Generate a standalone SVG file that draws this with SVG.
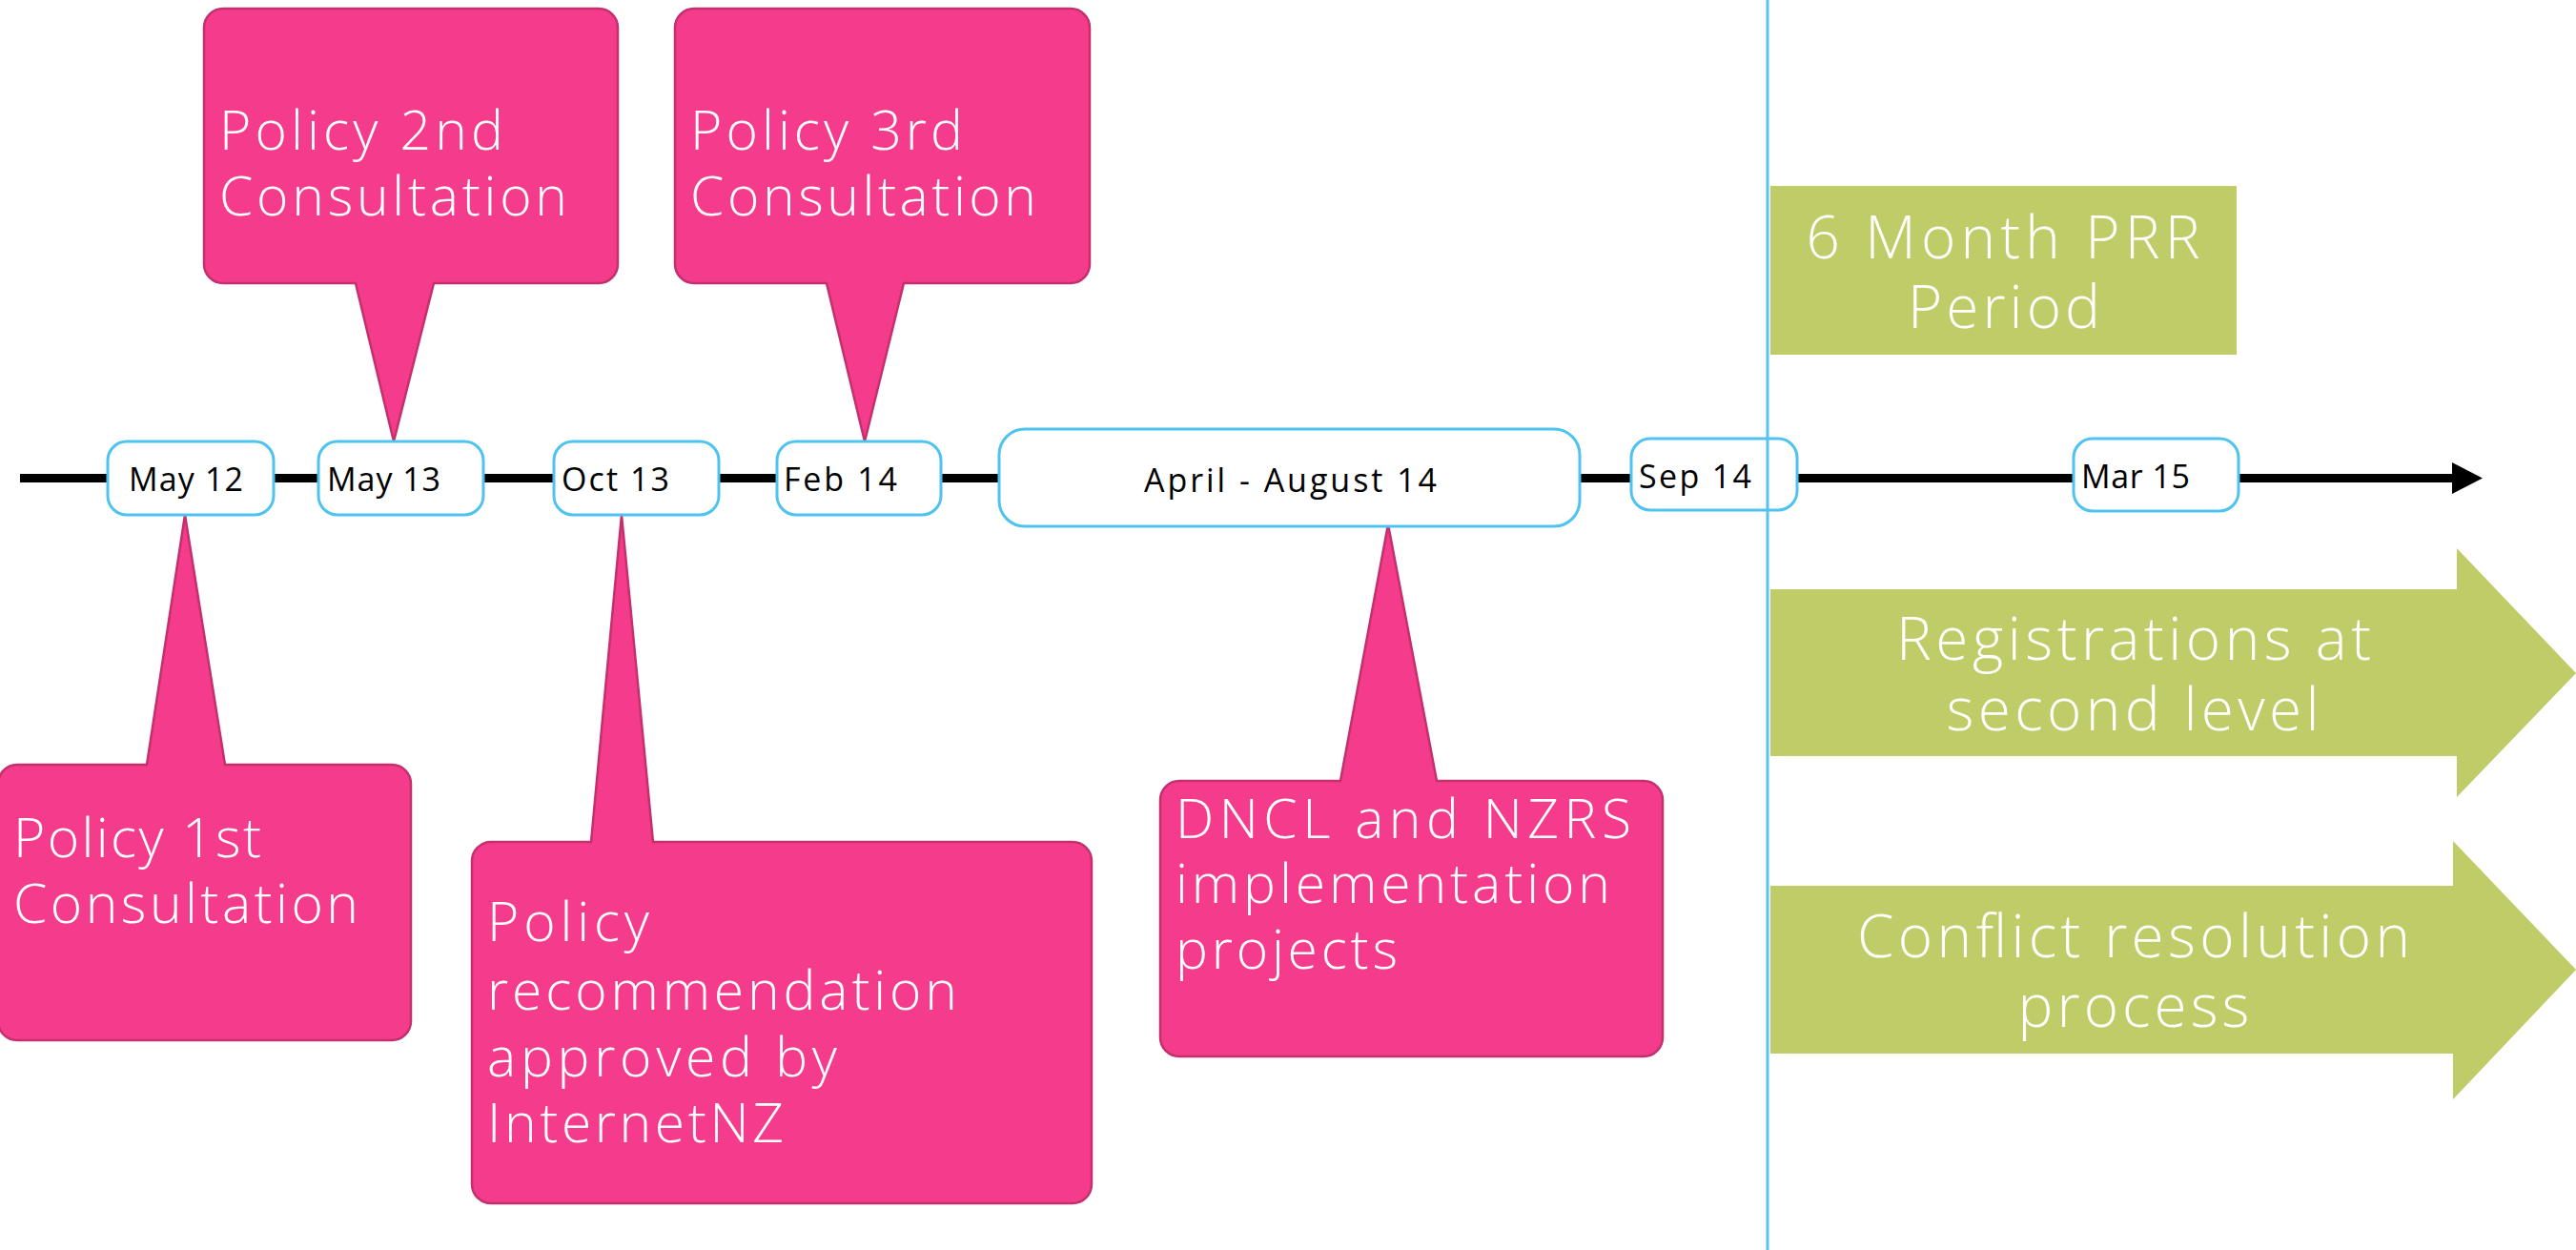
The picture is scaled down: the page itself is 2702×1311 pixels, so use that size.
<svg xmlns="http://www.w3.org/2000/svg" width="2702" height="1311" viewBox="0 0 2702 1311">
<style>
.callout{fill:#F43B8C;stroke:#C4306C;stroke-width:2.5}
.ctext{fill:#FFFFFF;font-family:"Open Sans","Liberation Sans",sans-serif;font-weight:300;font-size:57px}
.gshape{fill:#C0CC68}
.gtext{fill:#FFFFFF;font-family:"Open Sans","Liberation Sans",sans-serif;font-weight:300;font-size:62px;text-anchor:middle}
.date{fill:#FFFFFF;stroke:#4FC3EF;stroke-width:3}
.dtext{fill:#000000;font-family:"Open Sans","Liberation Sans",sans-serif;font-weight:400;font-size:34px}
</style>
<defs>
<marker id="arrow" viewBox="0 0 32 33" refX="0" refY="16.5" markerWidth="32" markerHeight="33" markerUnits="userSpaceOnUse" orient="auto">
<path d="M0 0 L32 16.5 L0 33 Z" fill="#000000"/>
</marker>
</defs>
<rect x="0" y="0" width="2702" height="1311" fill="#FFFFFF"/>
<g id="connectors">
<line x1="21" y1="501.5" x2="2572" y2="501.5" stroke="#000000" stroke-width="9" marker-end="url(#arrow)"/>
</g>
<g id="callout-policy-2nd">
<path class="callout" d="M234 9 H628 A20 20 0 0 1 648 29 V277 A20 20 0 0 1 628 297 H455 L413 463 L373 297 H234 A20 20 0 0 1 214 277 V29 A20 20 0 0 1 234 9 Z"/>
<text class="ctext"><tspan x="230" y="157" textLength="298">Policy 2nd</tspan><tspan x="230" y="226" textLength="365">Consultation</tspan></text>
</g>
<g id="callout-policy-3rd">
<path class="callout" d="M728 9 H1123 A20 20 0 0 1 1143 29 V277 A20 20 0 0 1 1123 297 H948 L907 463 L867 297 H728 A20 20 0 0 1 708 277 V29 A20 20 0 0 1 728 9 Z"/>
<text class="ctext"><tspan x="724" y="157" textLength="286">Policy 3rd</tspan><tspan x="724" y="226" textLength="363">Consultation</tspan></text>
</g>
<g id="callout-policy-1st">
<path class="callout" d="M18 802 H154 L194 540 L236 802 H411 A20 20 0 0 1 431 822 V1071 A20 20 0 0 1 411 1091 H18 A20 20 0 0 1 -2 1071 V822 A20 20 0 0 1 18 802 Z"/>
<text class="ctext"><tspan x="14" y="899" textLength="260">Policy 1st</tspan><tspan x="14" y="968" textLength="362">Consultation</tspan></text>
</g>
<g id="callout-policy-recommendation">
<path class="callout" d="M515 883 H620 L652 540 L685 883 H1125 A20 20 0 0 1 1145 903 V1242 A20 20 0 0 1 1125 1262 H515 A20 20 0 0 1 495 1242 V903 A20 20 0 0 1 515 883 Z"/>
<text class="ctext"><tspan x="511" y="987" textLength="170">Policy</tspan><tspan x="511" y="1059" textLength="493">recommendation</tspan><tspan x="511" y="1129" textLength="367">approved by</tspan><tspan x="511" y="1198" textLength="311">InternetNZ</tspan></text>
</g>
<g id="callout-dncl-nzrs">
<path class="callout" d="M1237 819 H1406 L1456 550 L1507 819 H1724 A20 20 0 0 1 1744 839 V1088 A20 20 0 0 1 1724 1108 H1237 A20 20 0 0 1 1217 1088 V839 A20 20 0 0 1 1237 819 Z"/>
<text class="ctext"><tspan x="1233" y="879" textLength="478">DNCL and NZRS</tspan><tspan x="1233" y="947" textLength="456">implementation</tspan><tspan x="1233" y="1016" textLength="233">projects</tspan></text>
</g>
<g id="date-may12">
<rect class="date" x="113" y="463" width="174" height="77" rx="20"/>
<text class="dtext" x="135" y="515" textLength="120">May 12</text>
</g>
<g id="date-may13">
<rect class="date" x="334" y="463" width="173" height="77" rx="20"/>
<text class="dtext" x="343" y="515" textLength="119">May 13</text>
</g>
<g id="date-oct13">
<rect class="date" x="581" y="463" width="173" height="77" rx="20"/>
<text class="dtext" x="589" y="515" textLength="113">Oct 13</text>
</g>
<g id="date-feb14">
<rect class="date" x="815" y="463" width="172" height="77" rx="20"/>
<text class="dtext" x="822" y="515" textLength="119">Feb 14</text>
</g>
<g id="date-apr-aug14">
<rect class="date" x="1048" y="450" width="609" height="102" rx="27"/>
<text class="dtext" x="1200" y="516" textLength="307">April - August 14</text>
</g>
<g id="date-sep14">
<rect class="date" x="1711" y="460" width="174" height="75" rx="20"/>
<text class="dtext" x="1719" y="512" textLength="118">Sep 14</text>
</g>
<g id="date-mar15">
<rect class="date" x="2175" y="460" width="173" height="76" rx="20"/>
<text class="dtext" x="2183" y="512" textLength="114">Mar 15</text>
</g>
<g id="divider">
<line x1="1854" y1="0" x2="1854" y2="1311" stroke="#56C2EE" stroke-width="3"/>
</g>
<g id="prr-period">
<rect class="gshape" x="1857" y="195" width="489" height="177"/>
<text class="gtext"><tspan x="2101" y="271" textLength="413">6 Month PRR</tspan><tspan x="2102" y="344" textLength="202">Period</tspan></text>
</g>
<g id="registrations-second-level">
<polygon class="gshape" points="1857,618 2577,618 2577,575 2702,706 2577,836 2577,793 1857,793"/>
<text class="gtext"><tspan x="2238" y="692" textLength="498">Registrations at</tspan><tspan x="2237" y="766" textLength="391">second level</tspan></text>
</g>
<g id="conflict-resolution">
<polygon class="gshape" points="1857,929 2573,929 2573,882 2702,1017 2573,1153 2573,1105 1857,1105"/>
<text class="gtext"><tspan x="2238" y="1004" textLength="580">Conflict resolution</tspan><tspan x="2238" y="1077" textLength="243">process</tspan></text>
</g>
</svg>
